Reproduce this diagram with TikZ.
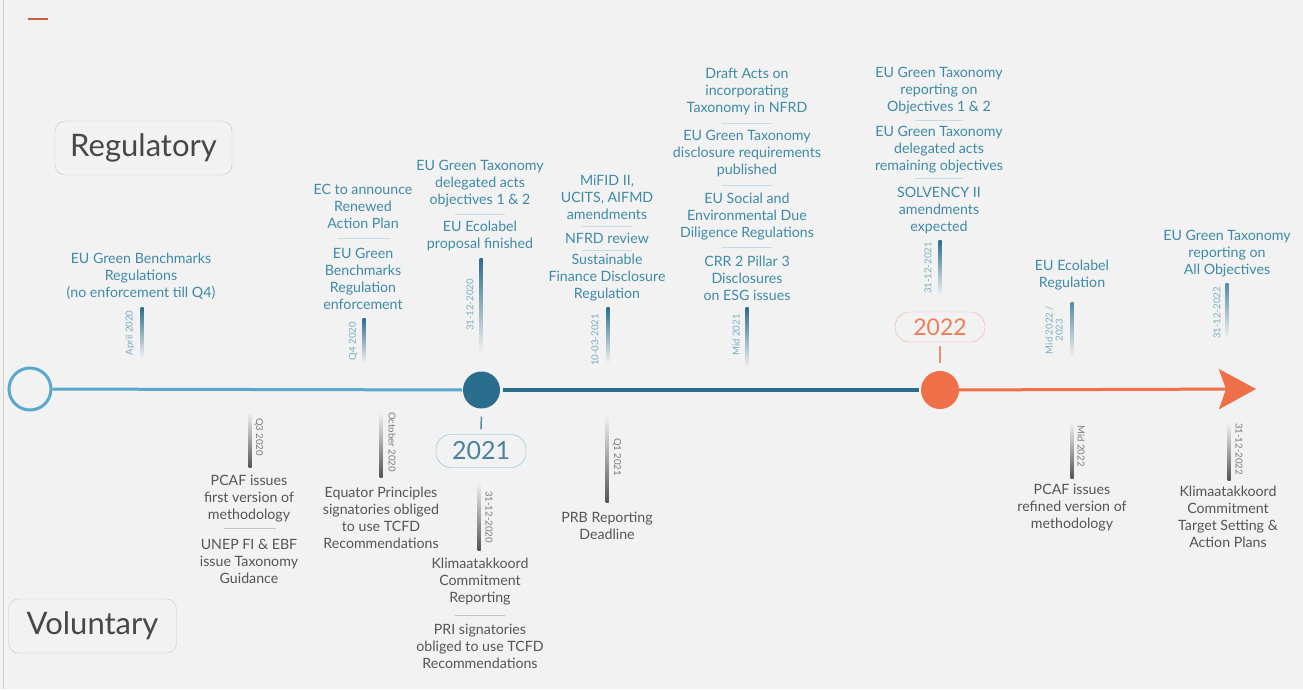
\documentclass[tikz,border=0pt]{standalone}
\usepackage{fontspec}
\setmainfont{Lato}
\usetikzlibrary{arrows.meta}
\definecolor{bgc}{HTML}{F2F2F2}
\definecolor{lineblue}{HTML}{5AA8CE}
\definecolor{darkteal}{HTML}{2A6D8C}
\definecolor{tlorange}{HTML}{EE6F48}
\definecolor{regtext}{HTML}{3F8AA6}
\definecolor{voltext}{HTML}{555555}
\definecolor{regdate}{HTML}{78ADC2}
\definecolor{voldate}{HTML}{7A7A7A}
\definecolor{pillpink}{HTML}{F3AFA5}
\definecolor{boxgray}{HTML}{C6C6C6}

\begin{document}
\begin{tikzpicture}[x=1pt, y=-1pt,
    reg/.style={text=regtext, align=center, inner sep=0pt, font=\fontsize{14.2}{17}\selectfont},
    vol/.style={reg, text=voltext},
    daytext/.style={inner sep=0pt, align=center, font=\fontsize{9.6}{10}\selectfont},
    regday/.style={daytext, text=regdate, rotate=90},
    volday/.style={daytext, text=voldate, rotate=-90},
    regsep/.style={draw=regtext!30, line width=1pt},
    volsep/.style={draw=voltext!35, line width=1pt},
    kind/.style={draw=boxgray, rounded corners=10pt, text=black!72, minimum height=54pt, font=\fontsize{31}{31}\selectfont},
    yearpill/.style={rounded corners=15pt, minimum width=90pt, inner sep=0pt, font=\fontsize{25}{25}\selectfont}]
  % Background
  \fill[bgc] (0,0) rectangle (1303,689);
  \useasboundingbox (0,0) rectangle (1303,689);
  \draw[boxgray!80, line width=0.8pt] (3.5,0) -- (3.5,689);
  \draw[tlorange!85!black, line width=2pt] (28,19) -- (48,19);
  % Categories
  \node[kind, minimum width=177pt] (regbox) at (143.5,148) {Regulatory};
  \node[kind, minimum width=168pt] (volbox) at (92.5,626) {Voluntary};
  % Timeline
  \node[circle, draw=lineblue, line width=3pt, minimum size=42pt, inner sep=0pt] (c0) at (30,389) {};
  \node[circle, fill=darkteal, minimum size=37pt, inner sep=0pt] (c21) at (481.5,390) {};
  \node[circle, fill=tlorange, minimum size=38pt, inner sep=0pt] (c22) at (940,390) {};
  \coordinate (tip) at (1256,389);
  \draw[lineblue, line width=3pt, shorten >=1pt] (c0) -- (c21);
  \draw[darkteal, line width=3.5pt, shorten <=3pt, shorten >=2pt] (c21) -- (c22);
  \draw[tlorange, line width=3pt, -{Stealth[length=37pt, width=40pt, inset=7pt]}] (c22) -- (tip);
  % Years
  \node[yearpill, draw=lineblue!80, text=darkteal!85, minimum height=33pt] (y21) at (481,451) {2021};
  \node[yearpill, draw=pillpink, text=tlorange!90, minimum height=30pt, font=\fontsize{23}{23}\selectfont] (y22) at (940,327) {2022};
  \draw[darkteal!80, line width=1.5pt, shorten <=8pt, shorten >=5pt] (c21) -- (y21);
  \draw[tlorange!80, line width=1.5pt, shorten <=8pt, shorten >=4pt] (c22) -- (y22);
  % Regulatory events
  \node[reg] (reg1) at (141,276) {EU Green Benchmarks\\Regulations\\(no enforcement till Q4)};
  \shade[top color=darkteal, bottom color=bgc] (140.5,307) rectangle (143.5,358);
  \node[regday] (d1) at (130,333) {April 2020};
  \node[reg] (reg2a) at (363,206) {EC to announce\\Renewed\\Action Plan};
  \draw[regsep] (338,238) -- (390,238);
  \node[reg] (reg2b) at (363,279) {EU Green\\Benchmarks\\Regulation\\enforcement};
  \shade[top color=darkteal, bottom color=bgc] (362.5,318) rectangle (365.5,363);
  \node[regday] (d2) at (353,341) {Q4 2020};
  \node[reg] (reg3a) at (480,184) {EU Green Taxonomy\\delegated acts\\objectives 1 \& 2};
  \draw[regsep] (455,214) -- (505,214);
  \node[reg] (reg3b) at (480,236) {EU Ecolabel\\proposal finished};
  \shade[top color=darkteal, bottom color=bgc] (479.5,258) rectangle (482.5,353);
  \node[regday] (d3) at (470,305) {31-12-2020};
  \node[reg] (reg4a) at (607,197) {MiFID II,\\UCITS, AIFMD\\amendments};
  \draw[regsep] (582,226) -- (632,226);
  \node[reg] (reg4b) at (607,238) {NFRD review};
  \draw[regsep] (582,250) -- (632,250);
  \node[reg] (reg4c) at (607,278) {Sustainable\\Finance Disclosure\\Regulation};
  \shade[top color=darkteal, bottom color=bgc] (606.5,307) rectangle (609.5,363);
  \node[regday] (d4) at (595,340) {10-03-2021};
  \node[reg] (reg5a) at (747,92) {Draft Acts on\\incorporating\\Taxonomy in NFRD};
  \draw[regsep] (722,123) -- (772,123);
  \node[reg] (reg5b) at (747,154) {EU Green Taxonomy\\disclosure requirements\\published};
  \draw[regsep] (722,185) -- (772,185);
  \node[reg] (reg5c) at (747,217) {EU Social and\\Environmental Due\\Diligence Regulations};
  \draw[regsep] (722,247) -- (772,247);
  \node[reg] (reg5d) at (747,278) {CRR 2 Pillar 3\\Disclosures\\on ESG issues};
  \shade[top color=darkteal, bottom color=bgc] (745.5,307) rectangle (748.5,367);
  \node[regday] (d5) at (736,335) {Mid 2021};
  \node[reg] (reg6a) at (939,91) {EU Green Taxonomy\\reporting on\\Objectives 1 \& 2};
  \draw[regsep] (915,120) -- (963,120);
  \node[reg] (reg6b) at (939,150) {EU Green Taxonomy\\delegated acts\\remaining objectives};
  \draw[regsep] (915,178) -- (963,178);
  \node[reg] (reg6c) at (939,211) {SOLVENCY II\\amendments\\expected};
  \shade[top color=darkteal, bottom color=bgc] (938.5,240) rectangle (941.5,295);
  \node[regday] (d6) at (928,268) {31-12-2021};
  \node[reg] (reg7) at (1072,275) {EU Ecolabel\\Regulation};
  \shade[top color=darkteal!80, bottom color=bgc] (1070.5,302) rectangle (1073.5,357);
  \node[regday] (d7) at (1054,330) {Mid 2022 /\\2023};
  \node[reg] (reg8) at (1227,254) {EU Green Taxonomy\\reporting on\\All Objectives};
  \shade[top color=darkteal!80, bottom color=bgc] (1225.5,283) rectangle (1228.5,338);
  \node[regday] (d8) at (1217,313) {31-12-2022};
  % Voluntary events
  \shade[top color=bgc, bottom color=voltext] (248.5,412) rectangle (251.5,467);
  \node[volday] (e1) at (259,437) {Q3 2020};
  \node[vol] (vol1a) at (249,499) {PCAF issues\\first version of\\methodology};
  \draw[volsep] (224,528) -- (276,528);
  \node[vol] (vol1b) at (249,561) {UNEP FI \& EBF\\issue Taxonomy\\Guidance};
  \shade[top color=bgc, bottom color=voltext] (379.5,412) rectangle (382.5,477);
  \node[volday] (e2) at (392,442) {October 2020};
  \node[vol] (vol2) at (381,518) {Equator Principles\\signatories obliged\\to use TCFD\\Recommendations};
  \shade[top color=bgc, bottom color=voltext] (477.5,482) rectangle (480.5,550);
  \node[volday] (e3) at (489,517) {31-12-2020};
  \node[vol] (vol3a) at (480,582) {Klimaatakkoord\\Commitment\\Reporting};
  \draw[volsep] (455,615) -- (505,615);
  \node[vol] (vol3b) at (480,646) {PRI signatories\\obliged to use TCFD\\Recommendations};
  \shade[top color=bgc, bottom color=voltext] (605.5,415) rectangle (608.5,502);
  \node[volday] (e4) at (617,457) {Q1 2021};
  \node[vol] (vol4) at (607,526) {PRB Reporting\\Deadline};
  \shade[top color=bgc, bottom color=voltext] (1070.5,422) rectangle (1073.5,478);
  \node[volday] (e5) at (1081,446) {Mid 2022};
  \node[vol] (vol5) at (1072,508) {PCAF issues\\refined version of\\methodology};
  \shade[top color=bgc, bottom color=voltext] (1227.5,423) rectangle (1230.5,480);
  \node[volday] (e6) at (1239,449) {31-12-2022};
  \node[vol] (vol6) at (1228,517) {Klimaatakkoord\\Commitment\\Target Setting \&\\Action Plans};
\end{tikzpicture}
\end{document}
